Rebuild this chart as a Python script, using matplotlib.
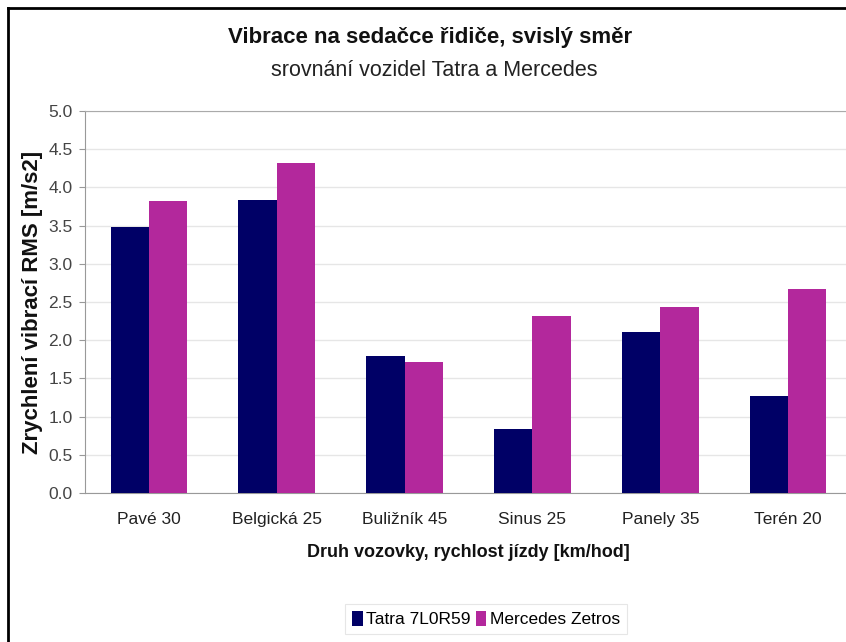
import matplotlib
matplotlib.use("Agg")
import matplotlib.pyplot as plt
import numpy as np
from matplotlib.patches import Patch
from matplotlib import font_manager

names = {f.name for f in font_manager.fontManager.ttflist}
FAM = ['Liberation Sans Narrow', 'DejaVu Sans'] if 'Liberation Sans Narrow' in names else ['Liberation Sans', 'DejaVu Sans']
plt.rcParams['font.family'] = FAM

categories = ["Pavé 30", "Belgická 25", "Buližník 45", "Sinus 25", "Panely 35", "Terén 20"]
tatra = [3.48, 3.83, 1.79, 0.84, 2.11, 1.27]
mercedes = [3.82, 4.32, 1.71, 2.32, 2.43, 2.67]
series_names = ["Tatra 7L0R59", "Mercedes Zetros"]
yticks = [0.0, 0.5, 1.0, 1.5, 2.0, 2.5, 3.0, 3.5, 4.0, 4.5, 5.0]

c_tatra = "#000066"
c_merc = "#B3289C"

fig = plt.figure(figsize=(8.46, 6.42), dpi=100)
ax = fig.add_axes([85/846, 149/642, (852-85)/846, (493-111)/642])

x = np.arange(len(categories))
w = 0.3
ax.bar(x - w/2, tatra, w, color=c_tatra, zorder=3)
ax.bar(x + w/2, mercedes, w, color=c_merc, zorder=3)

ax.set_xlim(-0.5, len(categories) - 0.5)
ax.set_ylim(0, 5.0)
ax.set_yticks(yticks)
ax.set_yticklabels([f"{v:.1f}" for v in yticks], fontsize=12.5, color="#444444")
ax.set_xticks(x)
ax.set_xticklabels(categories, fontsize=12.5, color="#222222")
ax.tick_params(axis='x', length=0, pad=14)
ax.tick_params(axis='y', length=4, color="#999999", pad=5)
ax.yaxis.grid(True, color="#e6e6e6", linewidth=1, zorder=0)
ax.spines['right'].set_visible(False)
ax.spines['top'].set_color("#aaaaaa")
ax.spines['left'].set_color("#999999")
ax.spines['bottom'].set_color("#999999")

ax.set_xlabel("Druh vozovky, rychlost jízdy [km/hod]", fontsize=13, fontweight='bold', color="#111111", labelpad=12)
ax.set_ylabel("Zrychlení vibrací RMS [m/s2]", fontsize=16, fontweight='bold', color="#111111", labelpad=4)

fig.text(430/846, 1 - 38/642, "Vibrace na sedačce řidiče, svislý směr", ha='center', va='center',
         fontsize=16, fontweight='bold', color="#111111")
fig.text(434/846, 1 - 70/642, "srovnání vozidel Tatra a Mercedes", ha='center', va='center',
         fontsize=15.5, color="#222222")

handles = [Patch(facecolor=c_tatra), Patch(facecolor=c_merc)]
leg = fig.legend(handles, series_names, loc='center', bbox_to_anchor=(486/846, 1 - 619/642),
                 ncol=2, fontsize=12.5, frameon=True, fancybox=False, handlelength=0.6,
                 handleheight=1.0, handletextpad=0.2, columnspacing=0.3, borderpad=0.4)
leg.get_frame().set_edgecolor("#e0e0e0")
leg.get_frame().set_linewidth(0.8)

# outer border lines (left and top)
fig.add_artist(plt.Line2D([8/846, 8/846], [0, 1 - 8/642], transform=fig.transFigure, color='black', lw=2))
fig.add_artist(plt.Line2D([8/846, 1], [1 - 8/642, 1 - 8/642], transform=fig.transFigure, color='black', lw=2))

fig.savefig("out.png", dpi=100)
